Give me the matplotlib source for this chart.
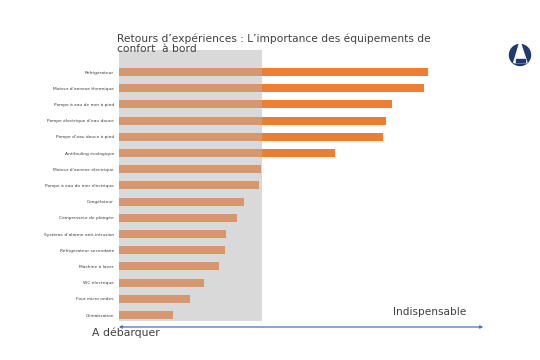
import matplotlib
matplotlib.use("Agg")
import matplotlib.pyplot as plt
from matplotlib.patches import Circle, Polygon, FancyArrowPatch

categories = [
    "Réfrigérateur",
    "Moteur d’annexe thermique",
    "Pompe à eau de mer à pied",
    "Pompe électrique d’eau douce",
    "Pompe d’eau douce à pied",
    "Antifouling écologique",
    "Moteur d’annexe électrique",
    "Pompe à eau de mer électrique",
    "Congélateur",
    "Compresseur de plongée",
    "Système d’alarme anti-intrusion",
    "Réfrigérateur secondaire",
    "Machine à laver",
    "WC électrique",
    "Four micro ondes",
    "Climatisation",
]
values = [309, 305, 273, 267, 264, 216, 142, 140, 125, 118, 107, 106, 100, 85, 71, 54]
threshold = 143

title = "Retours d’expériences : L’importance des équipements de\nconfort  à bord"
label_low = "A débarquer"
label_high = "Indispensable"

W, H = 540, 360
fig = plt.figure(figsize=(5.4, 3.6), dpi=100)
fig.patch.set_facecolor("white")

def fx(px):
    return px / W

def fy(py):
    return 1 - py / H

ax = fig.add_axes([fx(119), fy(321), fx(500 - 119), fy(50) - fy(321)])
ax.set_xlim(0, 381)
ax.set_ylim(15 + 0.37, -1.36)
ax.axvspan(-1, threshold, color="#D9D9D9", zorder=0, lw=0)

ys = list(range(len(categories)))
inner = [min(v, threshold) for v in values]
outer = [max(v - threshold, 0) for v in values]
ax.barh(ys, inner, height=0.5, color="#D6966E", zorder=2)
ax.barh(ys, outer, left=threshold, height=0.5, color="#ED7D31", zorder=2)

ax.set_yticks(ys)
ax.set_yticklabels(categories, fontsize=3.2, color="#404040")
ax.tick_params(axis="y", length=0, pad=3.6)
ax.set_xticks([])
for s in ax.spines.values():
    s.set_visible(False)
ax.set_facecolor("none")

fig.text(fx(117), fy(44), title, fontsize=7.7, color="#404040",
         family="DejaVu Sans", va="center", ha="left", linespacing=1.05)

arrow = FancyArrowPatch((fx(116), fy(327)), (fx(486), fy(327)),
                        transform=fig.transFigure, arrowstyle="<|-|>",
                        mutation_scale=4, color="#4472C4", lw=0.9)
fig.add_artist(arrow)
fig.text(fx(466), fy(312), label_high, fontsize=7.6, color="#404040",
         ha="right", va="center")
fig.text(fx(92), fy(333), label_low, fontsize=7.8, color="#404040",
         ha="left", va="center")

# logo
lax = fig.add_axes([fx(506), fy(70), fx(28), fy(40) - fy(70)])
lax.set_xlim(-1, 1)
lax.set_ylim(-1, 1)
lax.set_aspect("equal")
lax.axis("off")
lax.add_patch(Circle((0, 0), 0.75, color="#1F3A6E"))
lax.add_patch(Polygon([[0, 0.95], [-0.45, -0.55], [0.5, -0.55]], closed=True, color="white"))
lax.add_patch(Polygon([[-0.3, -0.3], [0.35, -0.3], [0.35, -0.5], [-0.3, -0.5]], closed=True, color="#1F3A6E"))

fig.savefig("out.png", dpi=100)
